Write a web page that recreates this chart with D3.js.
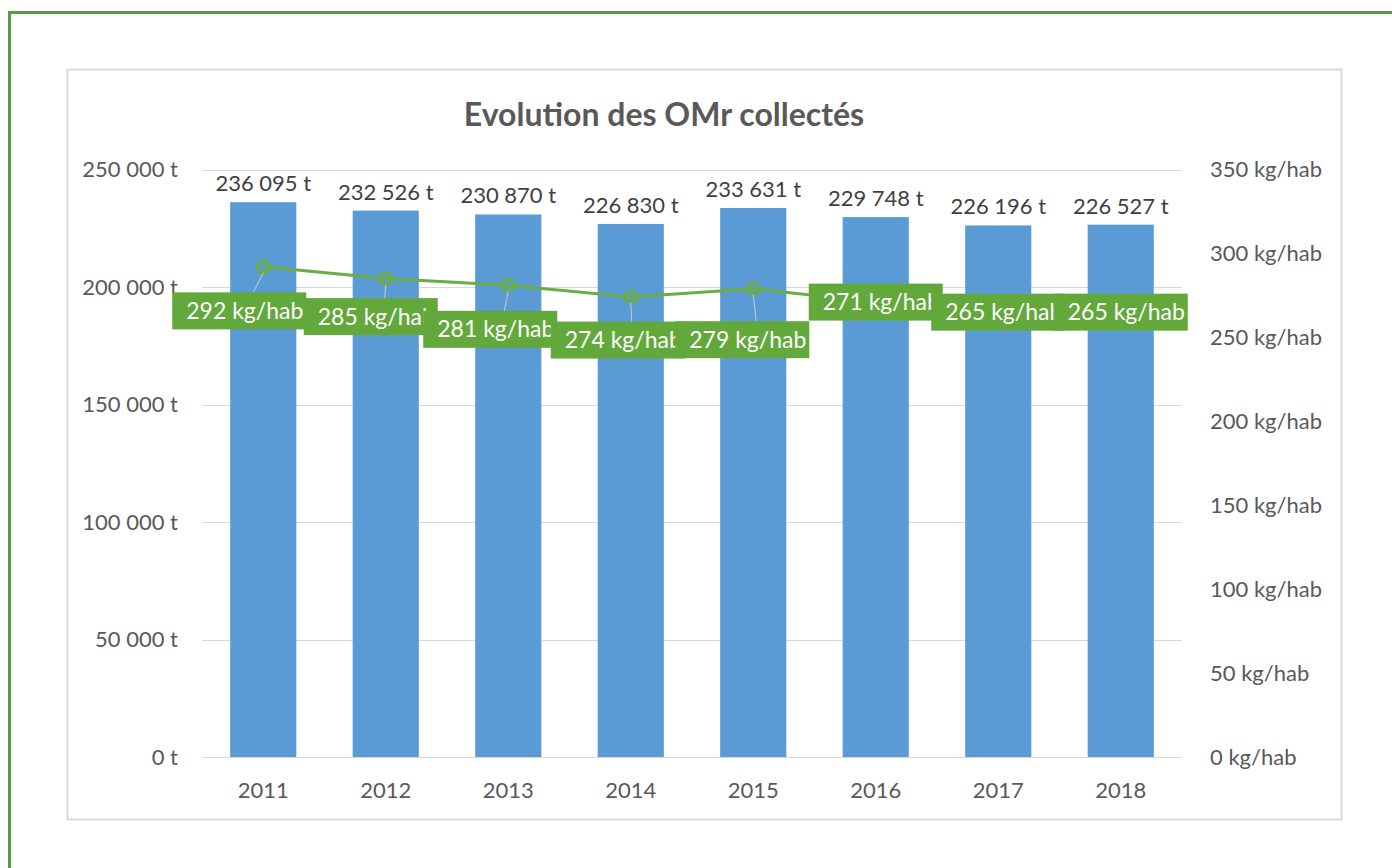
<!DOCTYPE html>
<html lang="fr">
<head>
    <meta charset="UTF-8">
    <title>Evolution des OMr collectés</title>
    <script src="https://d3js.org/d3.v7.min.js"></script>
    <style>
        body {
            margin: 0;
            overflow: hidden;
            background-color: #ffffff;
            font-family: Lato, "Open Sans", sans-serif;
        }
        svg {
            display: block;
        }
    </style>
</head>
<body>

<svg width="1392" height="868"></svg>

<script>
    // data
    const years = ["2011", "2012", "2013", "2014", "2015", "2016", "2017", "2018"];
    const tonnes = [236095, 232526, 230870, 226830, 233631, 229748, 226196, 226527];
    const kgPerHab = [292, 285, 281, 274, 279, 271, 265, 265];
    const leftTicks = [0, 50000, 100000, 150000, 200000, 250000];
    const rightTicks = [0, 50, 100, 150, 200, 250, 300, 350];

    const svgWidth = 1392;
    const svgHeight = 868;
    const plot = {left: 202, right: 1182, top: 169.5, bottom: 757};

    const barColor = "#5b9bd5";
    const lineColor = "#6aae42";
    const boxColor = "#63a83b";
    const textColor = "#595959";

    // manual placement of the green labels (pixels from their point), as in the original
    const labelShift = [[-24, 44], [-15, 38], [-18, 44], [-13, 43], [-11, 51], [0, 0], [0, 0], [0, 0]];
    const boxW = 134, boxH = 37;

    const fr = d3.formatLocale({decimal: ",", thousands: " ", grouping: [3], currency: ["", ""]});
    const fmt = fr.format(",d");

    const svg = d3.select("svg")
        .attr("width", svgWidth)
        .attr("height", svgHeight);

    // outer green frame (only left and top edges are in view)
    svg.append("path")
        .attr("d", `M9.5,${svgHeight} V12.5 H${svgWidth}`)
        .attr("fill", "none")
        .attr("stroke", "#5e9a44")
        .attr("stroke-width", 3);

    // chart frame
    svg.append("rect")
        .attr("x", 67.5).attr("y", 69.5)
        .attr("width", 1274).attr("height", 750)
        .attr("fill", "#fff")
        .attr("stroke", "#d9d9d9")
        .attr("stroke-width", 2);

    // scales
    const x = d3.scaleBand()
        .domain(years)
        .range([plot.left, plot.right])
        .paddingInner(0.46)
        .paddingOuter(0.23);

    const yLeft = d3.scaleLinear()
        .domain([0, 250000])
        .range([plot.bottom, plot.top]);

    const yRight = d3.scaleLinear()
        .domain([0, 350])
        .range([plot.bottom, plot.top]);

    // title
    svg.append("text")
        .attr("x", 664)
        .attr("y", 126)
        .attr("text-anchor", "middle")
        .attr("font-size", 32)
        .attr("font-weight", "bold")
        .attr("fill", textColor)
        .text("Evolution des OMr collectés");

    // gridlines
    svg.append("g")
        .selectAll("line")
        .data(leftTicks)
        .join("line")
        .attr("x1", plot.left)
        .attr("x2", plot.right)
        .attr("y1", d => Math.round(yLeft(d)) + 0.5)
        .attr("y2", d => Math.round(yLeft(d)) + 0.5)
        .attr("stroke", "#d9d9d9")
        .attr("stroke-width", 1);

    // left axis
    const leftAxis = d3.axisLeft(yLeft)
        .tickValues(leftTicks)
        .tickSize(0)
        .tickPadding(0)
        .tickFormat(d => fmt(d) + " t");

    svg.append("g")
        .attr("transform", "translate(178,0)")
        .call(leftAxis)
        .call(g => g.select(".domain").remove())
        .selectAll("text")
        .attr("font-family", "Lato, sans-serif")
        .attr("font-size", 22)
        .attr("fill", textColor);

    // right axis
    const rightAxis = d3.axisRight(yRight)
        .tickValues(rightTicks)
        .tickSize(0)
        .tickPadding(0)
        .tickFormat(d => d + " kg/hab");

    svg.append("g")
        .attr("transform", "translate(1210,0)")
        .call(rightAxis)
        .call(g => g.select(".domain").remove())
        .selectAll("text")
        .attr("font-family", "Lato, sans-serif")
        .attr("font-size", 22)
        .attr("fill", textColor);

    // bottom axis
    const bottomAxis = d3.axisBottom(x)
        .tickSize(0)
        .tickPadding(0);

    svg.append("g")
        .attr("transform", `translate(0,${plot.bottom + 25})`)
        .call(bottomAxis)
        .call(g => g.select(".domain").remove())
        .selectAll("text")
        .attr("font-family", "Lato, sans-serif")
        .attr("font-size", 22)
        .attr("fill", textColor);

    // bars
    svg.append("g")
        .selectAll("rect")
        .data(tonnes)
        .join("rect")
        .attr("x", (d, i) => x(years[i]))
        .attr("y", d => yLeft(d))
        .attr("width", x.bandwidth())
        .attr("height", d => plot.bottom - yLeft(d))
        .attr("fill", barColor);

    // bar value labels
    svg.append("g")
        .selectAll("text")
        .data(tonnes)
        .join("text")
        .attr("x", (d, i) => x(years[i]) + x.bandwidth() / 2)
        .attr("y", d => yLeft(d) - 11)
        .attr("text-anchor", "middle")
        .attr("font-size", 22)
        .attr("fill", "#404040")
        .text(d => fmt(d) + " t");

    // line
    const cx = i => x(years[i]) + x.bandwidth() / 2;

    const line = d3.line()
        .x((d, i) => cx(i))
        .y(d => yRight(d));

    svg.append("path")
        .datum(kgPerHab)
        .attr("d", line)
        .attr("fill", "none")
        .attr("stroke", lineColor)
        .attr("stroke-width", 3);

    svg.append("g")
        .selectAll("circle")
        .data(kgPerHab)
        .join("circle")
        .attr("cx", (d, i) => cx(i))
        .attr("cy", d => yRight(d))
        .attr("r", 6)
        .attr("fill", "none")
        .attr("stroke", lineColor)
        .attr("stroke-width", 3);

    // leader lines for the labels that were moved away from their point
    svg.append("g")
        .selectAll("line")
        .data(kgPerHab.map((d, i) => i).filter(i => labelShift[i][1] !== 0))
        .join("line")
        .attr("x1", i => cx(i))
        .attr("y1", i => yRight(kgPerHab[i]) + 6)
        .attr("x2", i => cx(i) + labelShift[i][0] + 14)
        .attr("y2", i => yRight(kgPerHab[i]) + labelShift[i][1] - boxH / 2)
        .attr("stroke", "#c8c8c8")
        .attr("stroke-width", 1);

    // green labels, drawn in order so later boxes overlap earlier ones
    const labels = svg.append("g")
        .selectAll("g")
        .data(kgPerHab)
        .join("g")
        .attr("transform", (d, i) =>
            `translate(${cx(i) + labelShift[i][0]},${yRight(d) + labelShift[i][1]})`);

    labels.append("rect")
        .attr("x", -boxW / 2)
        .attr("y", -boxH / 2)
        .attr("width", boxW)
        .attr("height", boxH)
        .attr("fill", boxColor);

    labels.append("text")
        .attr("x", -boxW / 2 + 14)
        .attr("y", 8)
        .attr("font-size", 23)
        .attr("fill", "#ffffff")
        .text(d => d + " kg/hab");
</script>

</body>
</html>
